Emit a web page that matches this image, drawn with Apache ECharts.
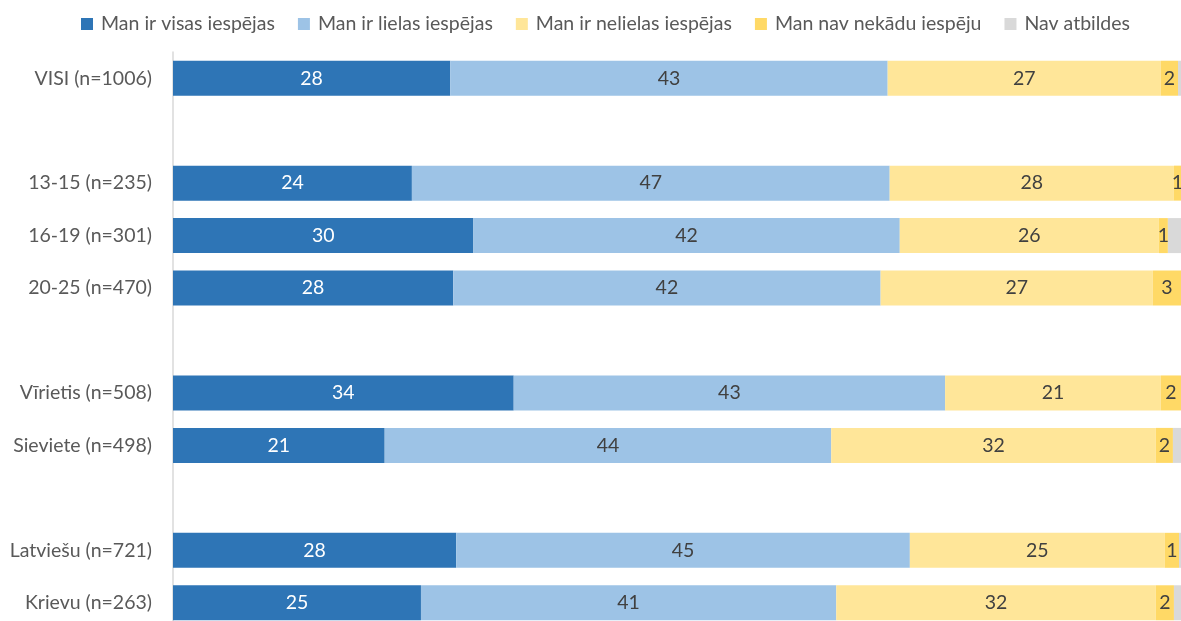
<!DOCTYPE html>
<html>
<head>
<meta charset="utf-8">
<script src="https://cdn.jsdelivr.net/npm/echarts@6/dist/echarts.min.js"></script>
<style>
  html, body { margin: 0; padding: 0; background: #fff; }
  #chart { width: 1181px; height: 621px; }
</style>
</head>
<body>
<div id="chart"></div>
<script>
// grupas (tukšās rindas = atstarpes starp blokiem)
var categories = ['VISI (n=1006)', ' ', '13-15 (n=235)', '16-19 (n=301)', '20-25 (n=470)', '  ',
  'Vīrietis (n=508)', 'Sieviete (n=498)', '   ', 'Latviešu (n=721)', 'Krievu (n=263)'];

var seriesNames = ['Man ir visas iespējas', 'Man ir lielas iespējas', 'Man ir nelielas iespējas',
  'Man nav nekādu iespēju', 'Nav atbildes'];

// procenti, nolasīti no attēla
var visas    = [27.5, null, 23.7, 29.8, 27.8, null, 33.8, 21.0, null, 28.1, 24.6];
var lielas   = [43.4, null, 47.4, 42.3, 42.4, null, 42.8, 44.3, null, 45.0, 41.2];
var nelielas = [27.1, null, 28.2, 25.7, 27.0, null, 21.4, 32.2, null, 25.3, 31.7];
var nekadu   = [1.7,  null, 0.7,  0.9,  2.8,  null, 2.0,  1.7,  null, 1.4,  1.8];
var navAtb   = [0.3,  null, 0,    1.3,  0,    null, 0,    0.8,  null, 0.2,  0.7];

var colors = ['#2E75B6', '#9DC3E6', '#FFE699', '#FFD966', '#D9D9D9'];
var font = 'Lato, "Open Sans", sans-serif';
var fs = 19.5;

function makeSeries(idx, data, labelColor, showLabel) {
  return {
    name: seriesNames[idx],
    type: 'bar',
    stack: 'kopa',
    barWidth: 35,
    data: data,
    itemStyle: { color: colors[idx] },
    label: {
      show: showLabel,
      position: 'inside',
      color: labelColor,
      fontFamily: font,
      fontSize: fs,
      formatter: function (p) { return p.value ? Math.round(p.value) : ''; }
    },
    emphasis: { disabled: true }
  };
}

var chart = echarts.init(document.getElementById('chart'));
chart.setOption({
  animation: false,
  color: colors,
  legend: {
    top: 9,
    left: 76,
    itemWidth: 12,
    itemHeight: 12,
    itemGap: 23,
    icon: 'rect',
    textStyle: { color: '#595959', fontFamily: font, fontSize: fs, padding: [0, 0, 0, 3] },
    data: seriesNames
  },
  grid: { left: 173, right: 0, top: 52, height: 577, outerBoundsMode: 'none', containLabel: false },
  xAxis: {
    type: 'value',
    min: 0,
    max: 100,
    show: false
  },
  yAxis: {
    type: 'category',
    inverse: true,
    data: categories,
    axisLine: { show: true, lineStyle: { color: '#D9D9D9', width: 1.5 } },
    axisTick: { show: false },
    axisLabel: { color: '#595959', fontFamily: font, fontSize: fs, margin: 21 }
  },
  series: [
    makeSeries(0, visas, '#ffffff', true),
    makeSeries(1, lielas, '#404040', true),
    makeSeries(2, nelielas, '#404040', true),
    makeSeries(3, nekadu, '#404040', true),
    makeSeries(4, navAtb, '#404040', false)
  ]
});
</script>
</body>
</html>
